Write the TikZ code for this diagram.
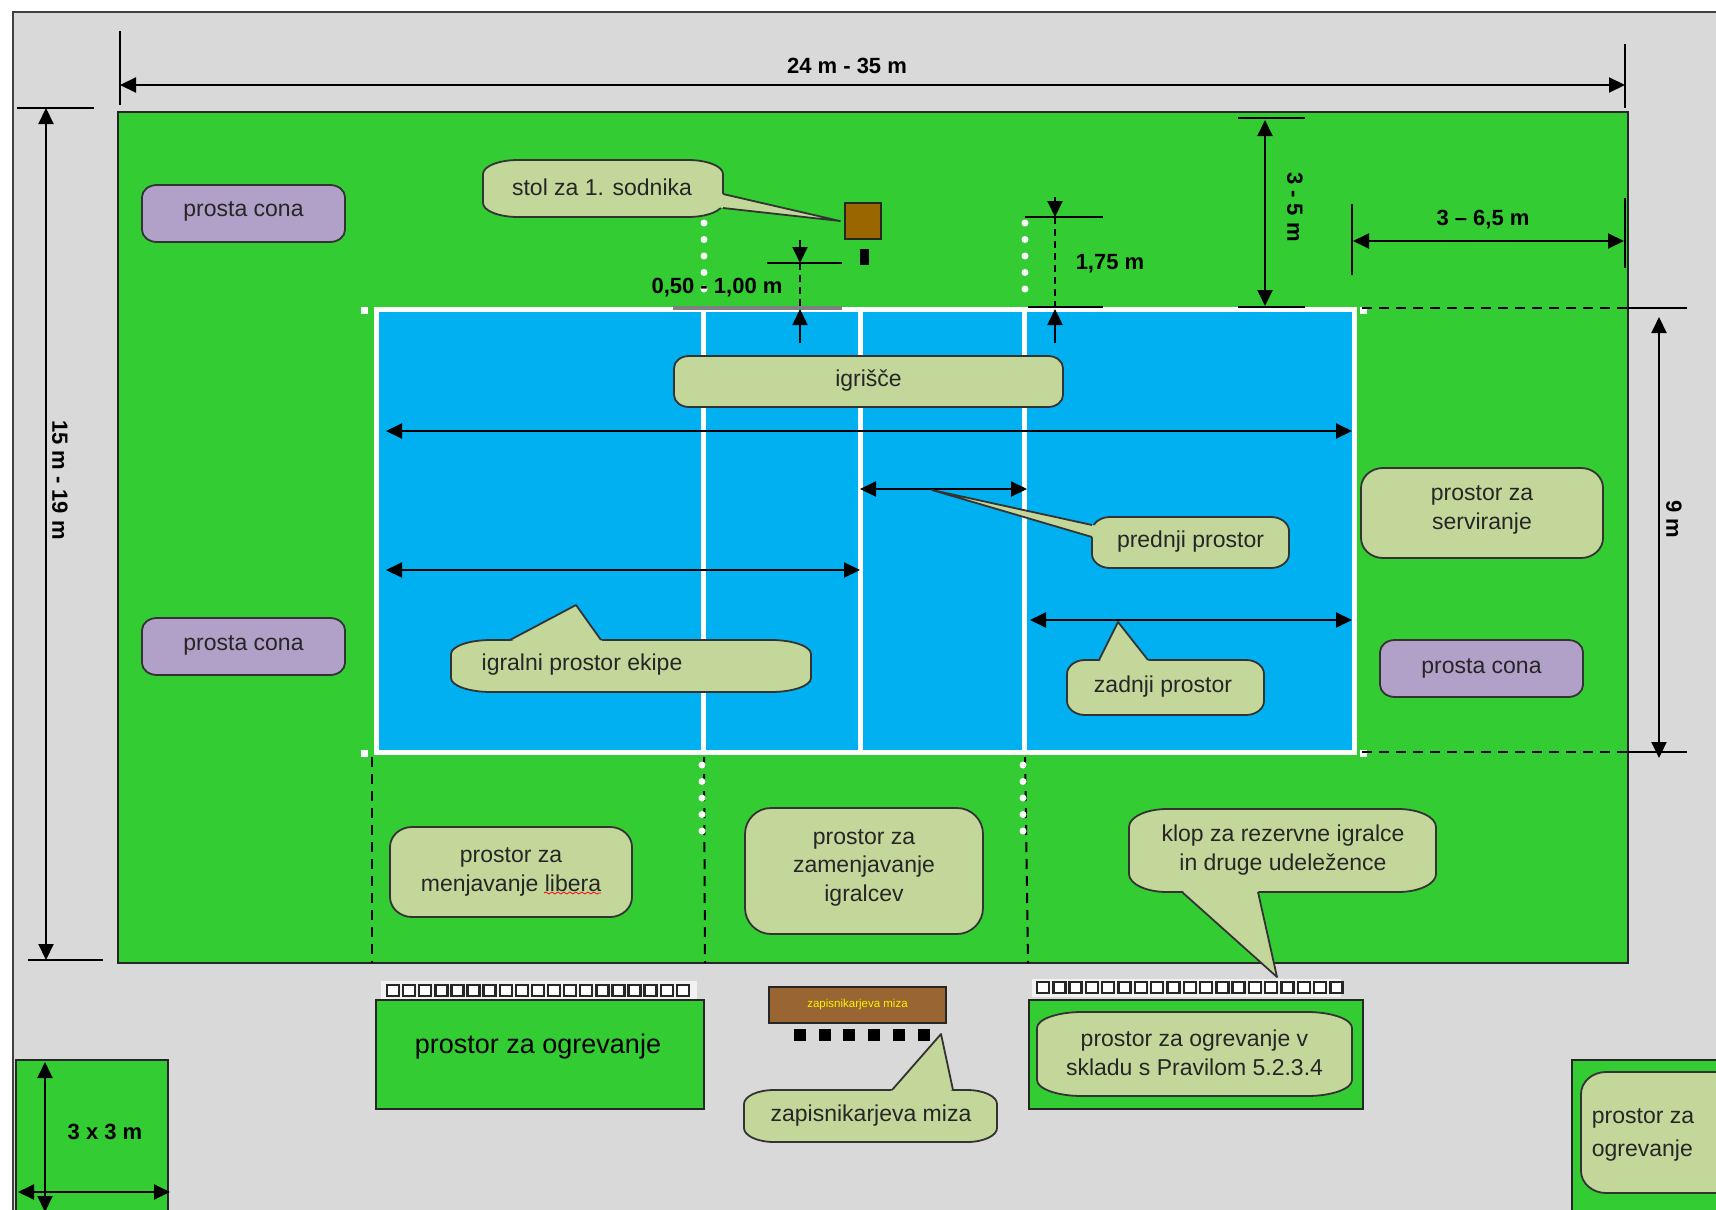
\documentclass[tikz,border=0pt]{standalone}
\usepackage{fontspec}
\setmainfont{Liberation Sans}
\usetikzlibrary{calc,arrows.meta,decorations.pathmorphing}
\definecolor{fieldgreen}{HTML}{33CC33}
\definecolor{hallgray}{HTML}{D9D9D9}
\definecolor{courtblue}{HTML}{00B0F0}
\definecolor{boxolive}{HTML}{C4D79B}
\definecolor{boxpurple}{HTML}{B1A0C7}
\definecolor{tablebrown}{HTML}{996633}
\definecolor{stolbrown}{HTML}{996600}
\tikzset{
  area/.style={draw=black!85,line width=2pt,fill=fieldgreen},
  softbody/.style={draw=black!80,line width=1.8pt,fill=#1},
  softbody/.default=boxolive,
  softtext/.style={align=center,inner sep=0pt,font=\fontsize{23}{28.5}\selectfont,text=black!85},
  dimtext/.style={inner sep=0pt,font=\fontsize{22}{26}\bfseries\selectfont},
  dim/.style={line width=2pt,{Triangle[length=16pt,width=15pt]}-{Triangle[length=16pt,width=15pt]}},
  dimone/.style={line width=2pt,-{Triangle[length=16pt,width=15pt]}},
  tick/.style={line width=1.6pt},
  courtline/.style={draw=white,line width=5pt},
  postdot/.style={fill=white,inner sep=0pt,minimum size=7pt},
  zonedash/.style={line width=2pt,dash pattern=on 10pt off 7pt},
  whitedot/.style={white,line width=7pt,line cap=round,dash pattern=on 0pt off 16.5pt}
}
% #1: name, #2,#3: top left, #4,#5: bottom right, #6,#7: corner radii
\newcommand{\softbox}[8][boxolive]{
  \draw[softbody=#1] (#3+#7,#4) -- (#5-#7,#4)
    .. controls (#5-0.45*#7,#4) and (#5,#4+0.45*#8) .. (#5,#4+#8)
    -- (#5,#6-#8)
    .. controls (#5,#6-0.45*#8) and (#5-0.45*#7,#6) .. (#5-#7,#6)
    -- (#3+#7,#6)
    .. controls (#3+0.45*#7,#6) and (#3,#6-0.45*#8) .. (#3,#6-#8)
    -- (#3,#4+#8)
    .. controls (#3,#4+0.45*#8) and (#3+0.45*#7,#4) .. (#3+#7,#4) -- cycle;
  \coordinate (#2) at ({(#3+#5)/2},{(#4+#6)/2});
}
% #1: box name, #2: tail start, #3: tip, #4: tail end
\newcommand{\softtail}[4]{
  \fill[boxolive] #2 -- #3 -- #4 -- (#1) -- cycle;
  \draw[draw=black!80,line width=1.8pt,line join=round] #2 -- #3 -- #4;
}

\begin{document}
\begin{tikzpicture}[x=1pt,y=-1pt]
\useasboundingbox (0,0) rectangle (1716,1210);

% Hall and free zone
\draw[draw=black!75,line width=1.5pt,fill=hallgray] (13,12) rectangle (1740,1240);
\draw[area] (118,112) rectangle (1628,963);

% Court
\fill[courtblue] (376,309) rectangle (1354,752);
\draw[courtline] (376,309) rectangle (1354,752);
\foreach \x in {703,860,1024}
{
    \draw[courtline] (\x,309) -- (\x,752);
}
\draw[draw=gray,line width=4pt] (673,308) -- (842,308);
\foreach \x/\y [count=\i] in {364/310,1363/310,364/753,1363/753}
{
    \node[postdot] (post\i) at (\x,\y) {};
}

% Zone lines below the court
\draw[zonedash] (372,757) -- (372,963);
\draw[zonedash] (704,757) -- (705,963);
\draw[zonedash] (1025,757) -- (1028,963);
\foreach \x in {704,1025}
{
    \draw[whitedot] (\x,223) -- (\x,292);
}
\foreach \x in {702,1023}
{
    \draw[whitedot] (\x,765) -- (\x,835);
}

% First referee table
\node[draw=black!85,line width=2pt,fill=stolbrown,minimum size=36pt,inner sep=0pt] (stol) at (863,221) {};
\node[fill=black,minimum width=9pt,minimum height=16pt,inner sep=0pt] (sodnik) at (864,257) {};

% Outside dimensions
\coordinate (widthA) at (120,85);
\coordinate (widthB) at (1625,85);
\draw[tick] (120,31) -- (120,105);
\draw[tick] (1625,44) -- (1625,108);
\draw[dim] (widthA) -- (widthB);
\node[dimtext] (widthlabel) at (847,66) {24 m - 35 m};
\coordinate (lengthA) at (46,108);
\coordinate (lengthB) at (46,960);
\draw[tick] (17,108) -- (94,108);
\draw[tick] (28,960) -- (103,960);
\draw[dim] (lengthA) -- (lengthB);
\node[dimtext,rotate=-90] (lengthlabel) at (60,480) {15 m - 19 m};

% Free zone dimensions
\draw[tick] (1238,118) -- (1305,118);
\draw[tick] (1238,307) -- (1305,307);
\coordinate (freeA) at (1265,120);
\coordinate (freeB) at (1265,306);
\draw[dim] (freeA) -- (freeB);
\node[dimtext,rotate=-90] (freelabel) at (1295,207) {3 - 5 m};
\draw[tick] (1352,204) -- (1352,275);
\draw[tick] (1625,198) -- (1625,268);
\coordinate (serveA) at (1353,241);
\coordinate (serveB) at (1624,241);
\draw[dim] (serveA) -- (serveB);
\node[dimtext] (servelabel) at (1483,220) {3 – 6,5 m};
\draw[zonedash] (1362,308) -- (1628,308);
\draw[tick] (1628,308) -- (1687,308);
\draw[zonedash] (1362,752) -- (1628,752);
\draw[tick] (1628,752) -- (1687,752);
\coordinate (courtA) at (1659,317);
\coordinate (courtB) at (1659,758);
\draw[dim] (courtA) -- (courtB);
\node[dimtext,rotate=-90] (courtlabel) at (1674,519) {9 m};

% Table and post distances
\draw[tick] (767,263) -- (842,263);
\coordinate (gapA) at (800,240);
\coordinate (gapB) at (800,263);
\coordinate (gapC) at (800,343);
\coordinate (gapD) at (800,309);
\draw[dimone] (gapA) -- (gapB);
\draw[dimone] (gapC) -- (gapD);
\draw[line width=1.6pt,dash pattern=on 7pt off 5pt] (gapB) -- (gapD);
\node[dimtext] (gaplabel) at (717,288) {0,50 - 1,00 m};
\draw[tick] (1025,217) -- (1103,217);
\draw[tick] (1028,307) -- (1103,307);
\coordinate (postA) at (1055,197);
\coordinate (postB) at (1055,217);
\coordinate (postC) at (1055,343);
\coordinate (postD) at (1055,309);
\draw[dimone] (postA) -- (postB);
\draw[dimone] (postC) -- (postD);
\draw[line width=1.6pt,dash pattern=on 7pt off 5pt] (postB) -- (postD);
\node[dimtext] (postlabel) at (1110,264) {1,75 m};

% Court dimensions
\coordinate (fullA) at (386,431);
\coordinate (fullB) at (1352,431);
\draw[dim] (fullA) -- (fullB);
\coordinate (frontA) at (860,489);
\coordinate (frontB) at (1027,489);
\draw[dim] (frontA) -- (frontB);
\coordinate (teamA) at (386,570);
\coordinate (teamB) at (860,570);
\draw[dim] (teamA) -- (teamB);
\coordinate (backA) at (1030,620);
\coordinate (backB) at (1352,620);
\draw[dim] (backA) -- (backB);

% Warm-up areas
\draw[area] (376,1000) rectangle (704,1109);
\draw[area] (1029,1000) rectangle (1363,1109);
\draw[area] (16,1060) rectangle (168,1240);
\draw[area] (1572,1060) rectangle (1740,1240);
\node[inner sep=0pt,font=\fontsize{27}{32}\selectfont] (warmleft) at (538,1047) {prostor za ogrevanje};
\coordinate (cornerA) at (45,1062);
\coordinate (cornerB) at (45,1212);
\draw[dim] (cornerA) -- (cornerB);
\coordinate (cornerC) at (18,1192);
\coordinate (cornerD) at (170,1192);
\draw[dim] (cornerC) -- (cornerD);
\node[dimtext] (cornerlabel) at (105,1132) {3 x 3 m};

% Benches
\fill[white!90!gray] (381,981) rectangle (697,999);
\fill[white!90!gray] (1032,979) rectangle (1341,997);
\foreach \i in {0,...,18}
{
    \draw[black!85,line width=2.4pt,fill=white] (387+16.1*\i,985) rectangle ++(12,11);
    \draw[black!85,line width=2.4pt,fill=white] (1037+16.3*\i,982) rectangle ++(12,11);
}

% Scorer table
\node[draw=black!85,line width=2pt,fill=tablebrown,minimum width=177pt,minimum height=36pt,inner sep=0pt,text=yellow,font=\fontsize{11.5}{13}\selectfont] (scorer) at (857.5,1005) {zapisnikarjeva miza};
\foreach \i in {0,...,5}
{
    \node[fill=black,minimum size=12pt,inner sep=0pt] (seat\i) at (800+24.7*\i,1035) {};
}

% Plain labels
\softbox[boxpurple]{conaA}{142}{185}{345}{242}{15}{12}
\node[softtext] (conaAtext) at ($(conaA)+(0,-2)$) {prosta cona};
\softbox[boxpurple]{conaB}{142}{618}{345}{675}{15}{12}
\node[softtext] (conaBtext) at ($(conaB)+(0,-1)$) {prosta cona};
\softbox[boxpurple]{conaC}{1380}{640}{1583}{697}{15}{12}
\node[softtext] (conaCtext) at (conaC) {prosta cona};
\softbox{igrisce}{674}{356}{1063}{407}{15}{12}
\node[softtext] (igriscetext) at ($(igrisce)+(0,-1)$) {igrišče};
\softbox{serve}{1361}{468}{1603}{558}{22}{20}
\node[softtext] (servetext) at ($(serve)+(0,-3)$) {prostor za\\serviranje};
\softbox{libero}{390}{827}{632}{917}{22}{20}
\node[softtext] (liberotext) at (libero) {prostor za\\menjavanje libera};
\draw[red,decorate,decoration={snake,amplitude=1pt,segment length=6pt},line width=0.8pt] (544,893) -- (601,893);
\softbox{subst}{745}{808}{983}{934}{26}{26}
\node[softtext] (substtext) at (864,867.5) {prostor za\\zamenjavanje\\igralcev};
\softbox{warmB}{1037}{1012}{1352}{1096}{45}{16}
\node[softtext] (warmBtext) at ($(warmB)+(0,-1)$) {prostor za ogrevanje v\\skladu s Pravilom 5.2.3.4};
\softbox{warmC}{1581}{1072}{1740}{1193}{25}{22}
\node[softtext,align=left,font=\fontsize{23}{33}\selectfont] (warmCtext) at (1643,1135) {prostor za\\ogrevanje};

% Callouts
\softbox{stolbox}{483}{160}{723}{217}{35}{14}
\softtail{stolbox}{(723,194)}{(840,221)}{(723,208)}
\node[softtext] (stoltext) at (602,187) {stol za 1. sodnika};
\softbox{frontbox}{1092}{517}{1289}{568}{18}{14}
\softtail{frontbox}{(1092,525)}{(932,490)}{(1092,537)}
\node[softtext] (fronttext) at ($(frontbox)+(0,-1)$) {prednji prostor};
\softbox{teambox}{451}{640}{811}{692}{40}{14}
\softtail{teambox}{(510,640)}{(576,605)}{(601,640)}
\node[softtext] (teamtext) at (582,665) {igralni prostor ekipe};
\softbox{backbox}{1067}{660}{1264}{715}{18}{14}
\softtail{backbox}{(1099,660)}{(1118,622)}{(1148,660)}
\node[softtext] (backtext) at (1163,687) {zadnji prostor};
\softbox{klopbox}{1129}{809}{1436}{892}{38}{18}
\softtail{klopbox}{(1182,892)}{(1277,977)}{(1258,892)}
\node[softtext] (kloptext) at (1283,850) {klop za rezervne igralce\\in druge udeležence};
\softbox{scorerbox}{744}{1090}{997}{1142}{30}{14}
\softtail{scorerbox}{(892,1090)}{(941,1034)}{(953,1090)}
\node[softtext] (scorertext) at (871,1116) {zapisnikarjeva miza};

\end{tikzpicture}
\end{document}
